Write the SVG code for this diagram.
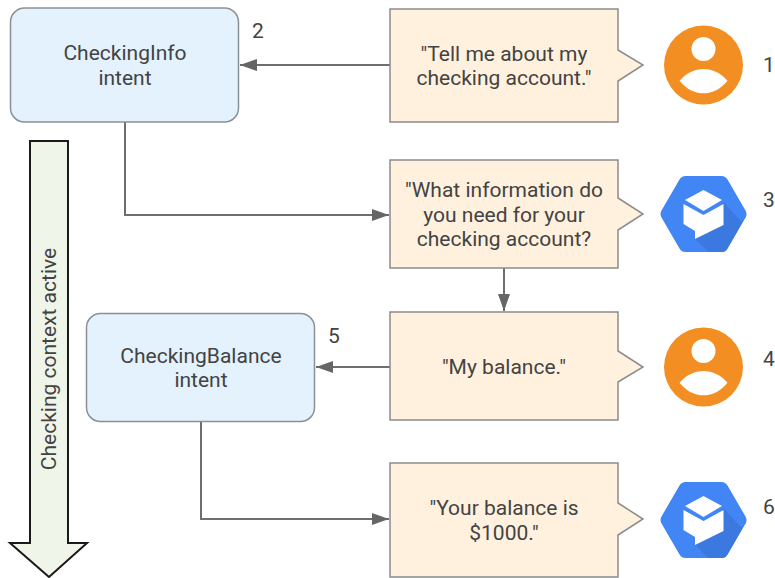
<svg xmlns="http://www.w3.org/2000/svg" xmlns:xlink="http://www.w3.org/1999/xlink" width="775" height="578" viewBox="0 0 775 578">
<style>
text{font-family:Roboto,"Liberation Sans",sans-serif;font-size:21px;fill:#434343;text-anchor:middle}
.intent{fill:#e3f2fd;stroke:#8a9196;stroke-width:1.500}
.bubble{fill:#fff1de;stroke:#8c8c8c;stroke-width:1.5}
.conn{fill:none;stroke:#6e6e6e;stroke-width:2}
</style>
<defs>
<marker id="ah" markerUnits="userSpaceOnUse" markerWidth="18" markerHeight="12" refX="17" refY="6" orient="auto"><path d="M0 0L17 6L0 12Z" fill="#666"/></marker>
<g id="person"><circle cx="0" cy="0" r="39.5" fill="#f28e22"/><circle cx="0" cy="-16" r="12" fill="#fff"/><path d="M-24 15.700C-17 8-9 4 0 4S17 8 24 15.700C17 24 9 28.300 0 28.300S-17 24-24 15.700Z" fill="#fff"/></g>
<g id="bot"><path d="M-18-38H18Q22-38 24-34.500L42-3.500Q44 0 42 3.500L24 34.500Q22 38 18 38H-18Q-22 38-24 34.500L-42 3.500Q-44 0-42-3.500L-24-34.500Q-22-38-18-38Z" fill="#4285f4"/><path d="M20-12L38 8L42 3.500Q42.500 2 42.800 1L38 10L24 34.500Q22 38 18 38H5L-8.500 25Z" fill="#3b78e0"/><path d="M0-24L18.500-14L0-3L-18.500-14Z" fill="#fff"/><path d="M-20-10L0 1L20-10V11L-8.500 25V17L-20 10Z" fill="#fff"/></g>
</defs>
<g id="connectors">
<path class="conn" d="M390 65H240" marker-end="url(#ah)"/>
<path class="conn" d="M125 122V215H389" marker-end="url(#ah)"/>
<path class="conn" d="M504 268V311" marker-end="url(#ah)"/>
<path class="conn" d="M390 367H316" marker-end="url(#ah)"/>
<path class="conn" d="M201 421V519H389" marker-end="url(#ah)"/>
</g>
<g id="context-arrow"><path d="M30 141H68V543H87L49 577L10 543H30Z" fill="#eff6e9" stroke="#1a1a1a" stroke-width="2"/><text transform="translate(55.500 359) rotate(-90)">Checking context active</text></g>
<g id="n-checkinginfo"><rect class="intent" x="10.500" y="8" width="228" height="114" rx="14"/><text x="125" y="60">CheckingInfo</text><text x="125" y="85">intent</text></g>
<text x="258" y="38">2</text>
<g id="n-checkingbalance"><rect class="intent" x="86.500" y="313.500" width="228" height="108" rx="14"/><text x="201" y="363">CheckingBalance</text><text x="201" y="387">intent</text></g>
<text x="334" y="343">5</text>
<g id="n-b1"><path class="bubble" d="M390 9H618V50L643 65L618 81V122H390Z"/><text x="504" y="61">"Tell me about my</text><text x="504" y="85">checking account."</text></g>
<g id="n-b2"><path class="bubble" d="M390 160H618V198L643 214L618 230V268H390Z"/><text x="504" y="197">"What information do</text><text x="504" y="222">you need for your</text><text x="504" y="246">checking account?</text></g>
<g id="n-b3"><path class="bubble" d="M390 312H618V351L643 367L618 382V420H390Z"/><text x="504" y="374">"My balance."</text></g>
<g id="n-b4"><path class="bubble" d="M390 463H618V503L643 519L618 535V577H390Z"/><text x="504" y="515">"Your balance is</text><text x="504" y="540">$1000."</text></g>
<g id="n-u1"><use xlink:href="#person" href="#person" x="703.500" y="65"/><text x="769" y="72">1</text></g>
<g id="n-a3"><use xlink:href="#bot" href="#bot" x="703.500" y="214"/><text x="769" y="207">3</text></g>
<g id="n-u4"><use xlink:href="#person" href="#person" x="703.500" y="367"/><text x="769" y="366">4</text></g>
<g id="n-a6"><use xlink:href="#bot" href="#bot" x="703.500" y="520"/><text x="769" y="514">6</text></g>
</svg>
